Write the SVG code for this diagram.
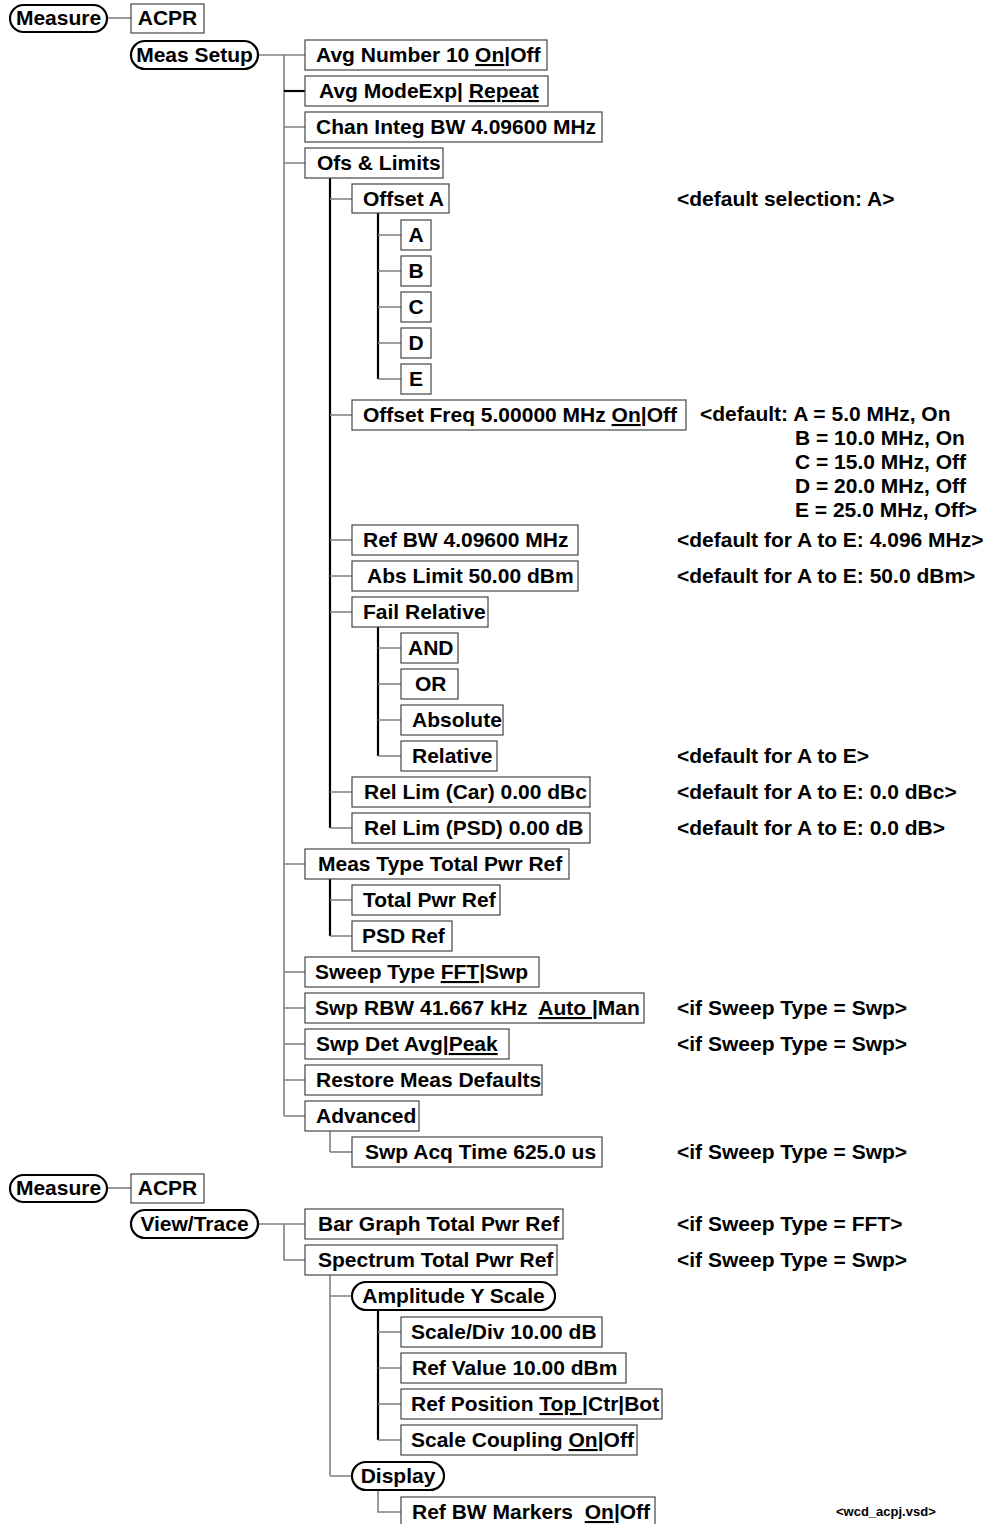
<svg xmlns="http://www.w3.org/2000/svg" width="991" height="1524" viewBox="0 0 991 1524">
<style>
text{font-family:"Liberation Sans",Arial,sans-serif;font-weight:bold;font-size:21px;fill:#000}
.box{fill:#fff;stroke:#444;stroke-width:1.2}
.pill{fill:#fff;stroke:#000;stroke-width:2.2}
.c{stroke:#808080;stroke-width:1.6;fill:none}
.k{stroke:#000;stroke-width:2.2;fill:none}
.u{text-decoration:underline}
.mid{text-anchor:middle}
.small{font-size:13px}
</style>
<rect width="991" height="1524" fill="#fff"/>
<g id="connectors">
<line class="c" x1="107" y1="18" x2="131" y2="18"/>
<line class="c" x1="258" y1="55" x2="305" y2="55"/>
<line class="c" x1="284" y1="55" x2="284" y2="1116"/>
<line class="k" x1="284" y1="91" x2="305" y2="91"/>
<path class="c" d="M284 127H305M284 163H305M284 864H305M284 972H305M284 1008H305M284 1044H305M284 1080H305M284 1116H305"/>
<line class="k" x1="330" y1="178" x2="330" y2="828"/>
<path class="c" d="M330 199H352M330 415H352M330 540H352M330 576H352M330 612H352M330 792H352M330 828H352"/>
<line class="k" x1="378" y1="213" x2="378" y2="379"/>
<path class="c" d="M378 235H401M378 271H401M378 307H401M378 343H401M378 379H401"/>
<line class="k" x1="378" y1="627" x2="378" y2="756"/>
<path class="c" d="M378 648H401M378 684H401M378 720H401M378 756H401"/>
<line class="k" x1="330" y1="879" x2="330" y2="936"/>
<path class="c" d="M330 900H352M330 936H352"/>
<line class="c" x1="330" y1="1131" x2="330" y2="1152"/>
<path class="c" d="M330 1152H352"/>
<line class="c" x1="107" y1="1188" x2="131" y2="1188"/>
<line class="c" x1="258" y1="1224" x2="305" y2="1224"/>
<path class="c" d="M284 1224V1260H305"/>
<line class="c" x1="330" y1="1275" x2="330" y2="1476"/>
<path class="c" d="M330 1296H352M330 1476H352"/>
<line class="k" x1="378" y1="1310" x2="378" y2="1440"/>
<path class="c" d="M378 1332H401M378 1368H401M378 1404H401M378 1440H401"/>
<path class="c" d="M378 1490V1512H401"/>
</g>
<g id="n-measure1"><rect class="pill" x="10" y="5" width="97" height="27" rx="13.5"/><text class="mid" x="58.5" y="25">Measure</text></g>
<g id="n-acpr1"><rect class="box" x="131" y="4" width="73" height="29"/><text class="mid" x="167.5" y="25">ACPR</text></g>
<g id="n-meassetup"><rect class="pill" x="131" y="41" width="127" height="28" rx="14"/><text class="mid" x="194.5" y="62">Meas Setup</text></g>
<g id="n-avgnum"><rect class="box" x="305" y="40" width="242" height="30"/><text x="316" y="62">Avg Number 10 <tspan class="u">On</tspan>|Off</text></g>
<g id="n-avgmode"><rect class="box" x="305" y="76" width="243" height="30"/><text x="319" y="98">Avg ModeExp| <tspan class="u">Repeat</tspan></text></g>
<g id="n-chaninteg"><rect class="box" x="305" y="112" width="297" height="30"/><text x="316" y="134">Chan Integ BW 4.09600 MHz</text></g>
<g id="n-ofslimits"><rect class="box" x="305" y="148" width="138" height="30"/><text x="317" y="170">Ofs &amp; Limits</text></g>
<g id="n-offseta"><rect class="box" x="352" y="184" width="97" height="29"/><text x="363" y="206">Offset A</text></g>
<g id="n-a"><rect class="box" x="401" y="220" width="30" height="30"/><text class="mid" x="416" y="242">A</text></g>
<g id="n-b"><rect class="box" x="401" y="256" width="30" height="30"/><text class="mid" x="416" y="278">B</text></g>
<g id="n-c"><rect class="box" x="401" y="292" width="30" height="30"/><text class="mid" x="416" y="314">C</text></g>
<g id="n-d"><rect class="box" x="401" y="328" width="30" height="30"/><text class="mid" x="416" y="350">D</text></g>
<g id="n-e"><rect class="box" x="401" y="364" width="30" height="30"/><text class="mid" x="416" y="386">E</text></g>
<g id="n-offsetfreq"><rect class="box" x="352" y="400" width="334" height="30"/><text x="363" y="422">Offset Freq 5.00000 MHz <tspan class="u">On</tspan>|Off</text></g>
<g id="n-refbw"><rect class="box" x="352" y="525" width="226" height="30"/><text x="363" y="547">Ref BW 4.09600 MHz</text></g>
<g id="n-abslimit"><rect class="box" x="352" y="561" width="226" height="30"/><text x="367" y="583">Abs Limit 50.00 dBm</text></g>
<g id="n-failrel"><rect class="box" x="352" y="597" width="136" height="30"/><text x="363" y="619">Fail Relative</text></g>
<g id="n-and"><rect class="box" x="401" y="633" width="57" height="30"/><text x="408" y="655">AND</text></g>
<g id="n-or"><rect class="box" x="401" y="669" width="57" height="30"/><text x="415" y="691">OR</text></g>
<g id="n-absolute"><rect class="box" x="401" y="705" width="102" height="30"/><text x="412" y="727">Absolute</text></g>
<g id="n-relative"><rect class="box" x="401" y="741" width="96" height="30"/><text x="412" y="763">Relative</text></g>
<g id="n-rellimcar"><rect class="box" x="352" y="777" width="238" height="30"/><text x="364" y="799">Rel Lim (Car) 0.00 dBc</text></g>
<g id="n-rellimpsd"><rect class="box" x="352" y="813" width="238" height="30"/><text x="364" y="835">Rel Lim (PSD) 0.00 dB</text></g>
<g id="n-meastype"><rect class="box" x="305" y="849" width="264" height="30"/><text x="318" y="871">Meas Type Total Pwr Ref</text></g>
<g id="n-totalpwr"><rect class="box" x="352" y="885" width="148" height="30"/><text x="363" y="907">Total Pwr Ref</text></g>
<g id="n-psdref"><rect class="box" x="352" y="921" width="100" height="30"/><text x="362" y="943">PSD Ref</text></g>
<g id="n-sweeptype"><rect class="box" x="305" y="957" width="234" height="30"/><text x="315" y="979">Sweep Type <tspan class="u">FFT</tspan>|Swp</text></g>
<g id="n-swprbw"><rect class="box" x="305" y="993" width="339" height="30"/><text x="315" y="1015" xml:space="preserve">Swp RBW 41.667 kHz  <tspan class="u">Auto </tspan>|Man</text></g>
<g id="n-swpdet"><rect class="box" x="305" y="1029" width="204" height="30"/><text x="316" y="1051">Swp Det Avg|<tspan class="u">Peak</tspan></text></g>
<g id="n-restore"><rect class="box" x="305" y="1065" width="237" height="30"/><text x="316" y="1087">Restore Meas Defaults</text></g>
<g id="n-advanced"><rect class="box" x="305" y="1101" width="114" height="30"/><text x="316" y="1123">Advanced</text></g>
<g id="n-swpacq"><rect class="box" x="352" y="1137" width="250" height="30"/><text x="365" y="1159">Swp Acq Time 625.0 us</text></g>
<g id="n-measure2"><rect class="pill" x="10" y="1175" width="97" height="27" rx="13.5"/><text class="mid" x="58.5" y="1195">Measure</text></g>
<g id="n-acpr2"><rect class="box" x="131" y="1174" width="73" height="29"/><text class="mid" x="167.5" y="1195">ACPR</text></g>
<g id="n-viewtrace"><rect class="pill" x="131" y="1210" width="127" height="28" rx="14"/><text class="mid" x="194.5" y="1231">View/Trace</text></g>
<g id="n-bargraph"><rect class="box" x="305" y="1209" width="258" height="30"/><text x="318" y="1231">Bar Graph Total Pwr Ref</text></g>
<g id="n-spectrum"><rect class="box" x="305" y="1245" width="252" height="30"/><text x="318" y="1267">Spectrum Total Pwr Ref</text></g>
<g id="n-ampy"><rect class="pill" x="352" y="1282" width="203" height="28" rx="14"/><text class="mid" x="453.5" y="1303">Amplitude Y Scale</text></g>
<g id="n-scalediv"><rect class="box" x="401" y="1317" width="201" height="30"/><text x="411" y="1339">Scale/Div 10.00 dB</text></g>
<g id="n-refvalue"><rect class="box" x="401" y="1353" width="225" height="30"/><text x="412" y="1375">Ref Value 10.00 dBm</text></g>
<g id="n-refpos"><rect class="box" x="401" y="1389" width="261" height="30"/><text x="411" y="1411">Ref Position <tspan class="u">Top </tspan>|Ctr|Bot</text></g>
<g id="n-scalecoup"><rect class="box" x="401" y="1425" width="236" height="30"/><text x="411" y="1447">Scale Coupling <tspan class="u">On</tspan>|Off</text></g>
<g id="n-display"><rect class="pill" x="352" y="1462" width="92" height="28" rx="14"/><text class="mid" x="398" y="1483">Display</text></g>
<g id="n-refbwmark"><rect class="box" x="401" y="1497" width="254" height="30"/><text x="412" y="1519" xml:space="preserve">Ref BW Markers  <tspan class="u">On</tspan>|Off</text></g>
<g id="notes">
<text x="677" y="206">&lt;default selection: A&gt;</text>
<text x="700" y="421">&lt;default: A = 5.0 MHz, On</text>
<text x="795" y="445">B = 10.0 MHz, On</text>
<text x="795" y="469">C = 15.0 MHz, Off</text>
<text x="795" y="493">D = 20.0 MHz, Off</text>
<text x="795" y="517">E = 25.0 MHz, Off&gt;</text>
<text x="677" y="547">&lt;default for A to E: 4.096 MHz&gt;</text>
<text x="677" y="583">&lt;default for A to E: 50.0 dBm&gt;</text>
<text x="677" y="763">&lt;default for A to E&gt;</text>
<text x="677" y="799">&lt;default for A to E: 0.0 dBc&gt;</text>
<text x="677" y="835">&lt;default for A to E: 0.0 dB&gt;</text>
<text x="677" y="1015">&lt;if Sweep Type = Swp&gt;</text>
<text x="677" y="1051">&lt;if Sweep Type = Swp&gt;</text>
<text x="677" y="1159">&lt;if Sweep Type = Swp&gt;</text>
<text x="677" y="1231">&lt;if Sweep Type = FFT&gt;</text>
<text x="677" y="1267">&lt;if Sweep Type = Swp&gt;</text>
<text class="small" x="836" y="1516">&lt;wcd_acpj.vsd&gt;</text>
</g>
</svg>
